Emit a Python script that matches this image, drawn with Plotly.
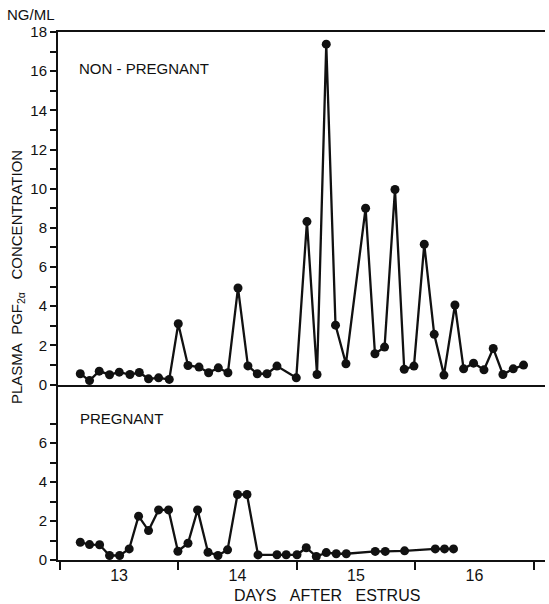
import plotly.graph_objects as go

# Non-pregnant series (days after estrus, ng/ml)
np_days = [12.673, 12.751, 12.833, 12.920, 13.002, 13.092, 13.171, 13.249, 13.334, 13.424,
           13.500, 13.582, 13.675, 13.756, 13.838, 13.919, 14.004, 14.088, 14.167, 14.249,
           14.333, 14.496, 14.586, 14.671, 14.749, 14.827, 14.915, 15.081, 15.160, 15.241,
           15.329, 15.407, 15.489, 15.576, 15.660, 15.742, 15.835, 15.908, 15.992, 16.080,
           16.158, 16.240, 16.327, 16.414]
np_vals = [0.55, 0.2, 0.68, 0.5, 0.63, 0.51, 0.61, 0.29, 0.34, 0.26,
           3.1, 0.97, 0.89, 0.6, 0.85, 0.6, 4.93, 0.95, 0.55, 0.55,
           0.94, 0.34, 8.32, 0.51, 17.38, 3.03, 1.06, 9.0, 1.57, 1.91,
           9.96, 0.78, 0.94, 7.16, 2.56, 0.48, 4.06, 0.8, 1.09, 0.75,
           1.84, 0.51, 0.8, 0.99]

# Pregnant series
p_days = [12.673, 12.751, 12.836, 12.920, 13.005, 13.086, 13.165, 13.249, 13.334, 13.418,
          13.497, 13.582, 13.663, 13.751, 13.835, 13.916, 14.000, 14.080, 14.173, 14.333,
          14.411, 14.502, 14.580, 14.665, 14.749, 14.833, 14.918, 15.162, 15.247, 15.410,
          15.669, 15.747, 15.823]
p_vals = [0.91, 0.79, 0.78, 0.23, 0.23, 0.57, 2.25, 1.51, 2.57, 2.57,
          0.45, 0.86, 2.57, 0.40, 0.23, 0.52, 3.36, 3.36, 0.26, 0.27,
          0.27, 0.27, 0.63, 0.18, 0.38, 0.32, 0.32, 0.44, 0.44, 0.47,
          0.57, 0.57, 0.57]

day_ticks = [13, 14, 15, 16]
day_ticktext = ["13", "14", "15", "16"]
day_bounds = [12.5, 13.5, 14.5, 15.5, 16.5]
top_ticks = [0, 2, 4, 6, 8, 10, 12, 14, 16, 18]
bot_ticks = [0, 2, 4, 6]
bot_minor = [1, 3, 5, 7]

FONT = "Liberation Sans, Arial, sans-serif"
BLACK = "#111111"

fig = go.Figure()
line_style = dict(color=BLACK, width=2.3)
marker_style = dict(color=BLACK, size=9, symbol="circle")

fig.add_trace(go.Scatter(x=np_days, y=np_vals, mode="lines+markers",
                         line=line_style, marker=marker_style,
                         xaxis="x2", yaxis="y2", showlegend=False, cliponaxis=False))
fig.add_trace(go.Scatter(x=p_days, y=p_vals, mode="lines+markers",
                         line=line_style, marker=marker_style,
                         xaxis="x", yaxis="y", showlegend=False, cliponaxis=False))

split = 175.5 / 528.0
xr = [12.485, 16.595]

fig.update_layout(
    width=549, height=604,
    margin=dict(l=58, r=4, t=32, b=44),
    plot_bgcolor="white", paper_bgcolor="white",
    font=dict(family=FONT, color=BLACK, size=14),
    xaxis=dict(domain=[0, 1], anchor="y", range=xr, showline=True, linecolor=BLACK,
               linewidth=2, tickvals=day_ticks, ticktext=day_ticktext, ticks="",
               showgrid=False, zeroline=False, tickfont=dict(size=16),
               minor=dict(tickmode="array", tickvals=day_bounds, ticks="outside",
                          ticklen=8, tickwidth=1.5, tickcolor=BLACK, showgrid=False)),
    yaxis=dict(domain=[0, split], anchor="x", range=[0, 9], showline=True, linecolor=BLACK,
               linewidth=2, tickvals=bot_ticks, ticks="outside", ticklen=6, tickwidth=1.5,
               tickcolor=BLACK, showgrid=False, zeroline=False, tickfont=dict(size=15),
               minor=dict(tickmode="array", tickvals=bot_minor, ticks="outside",
                          ticklen=6, tickwidth=1.5, tickcolor=BLACK, showgrid=False)),
    xaxis2=dict(domain=[0, 1], anchor="y2", range=xr, showline=True, mirror=True,
                linecolor=BLACK, linewidth=2, showticklabels=False, ticks="",
                showgrid=False, zeroline=False),
    yaxis2=dict(domain=[split, 1], anchor="x2", range=[0, 18], showline=True, linecolor=BLACK,
                linewidth=2, tickvals=top_ticks, ticks="outside", ticklen=6, tickwidth=1.5,
                tickcolor=BLACK, showgrid=False, zeroline=False, tickfont=dict(size=15),
                minor=dict(tickmode="linear", tick0=0, dtick=1, ticks="outside",
                           ticklen=6, tickwidth=1.5, tickcolor=BLACK, showgrid=False)),
)

def px_to_paper_x(px):
    return (px - 58) / 487.0

def px_to_paper_y(py):
    return (560 - py) / 528.0

annos = [
    dict(text="NG/ML", x=px_to_paper_x(5), y=px_to_paper_y(15), xanchor="left",
         yanchor="middle", font=dict(size=15)),
    dict(text="NON - PREGNANT", x=px_to_paper_x(77), y=px_to_paper_y(68), xanchor="left",
         yanchor="middle", font=dict(size=15)),
    dict(text="PREGNANT", x=px_to_paper_x(78), y=px_to_paper_y(418), xanchor="left",
         yanchor="middle", font=dict(size=15)),
    dict(text="DAYS\u00a0\u00a0\u00a0AFTER\u00a0\u00a0\u00a0ESTRUS", x=px_to_paper_x(327),
         y=px_to_paper_y(595), xanchor="center", yanchor="middle", font=dict(size=16)),
    dict(text="PLASMA\u00a0\u00a0PGF<sub>2\u03b1</sub>\u00a0\u00a0\u00a0CONCENTRATION",
         x=px_to_paper_x(17), y=px_to_paper_y(277), xanchor="center", yanchor="middle",
         textangle=-90, font=dict(size=15)),
]
for a in annos:
    fig.add_annotation(xref="paper", yref="paper", showarrow=False, **a)

fig.write_html("out.html")
